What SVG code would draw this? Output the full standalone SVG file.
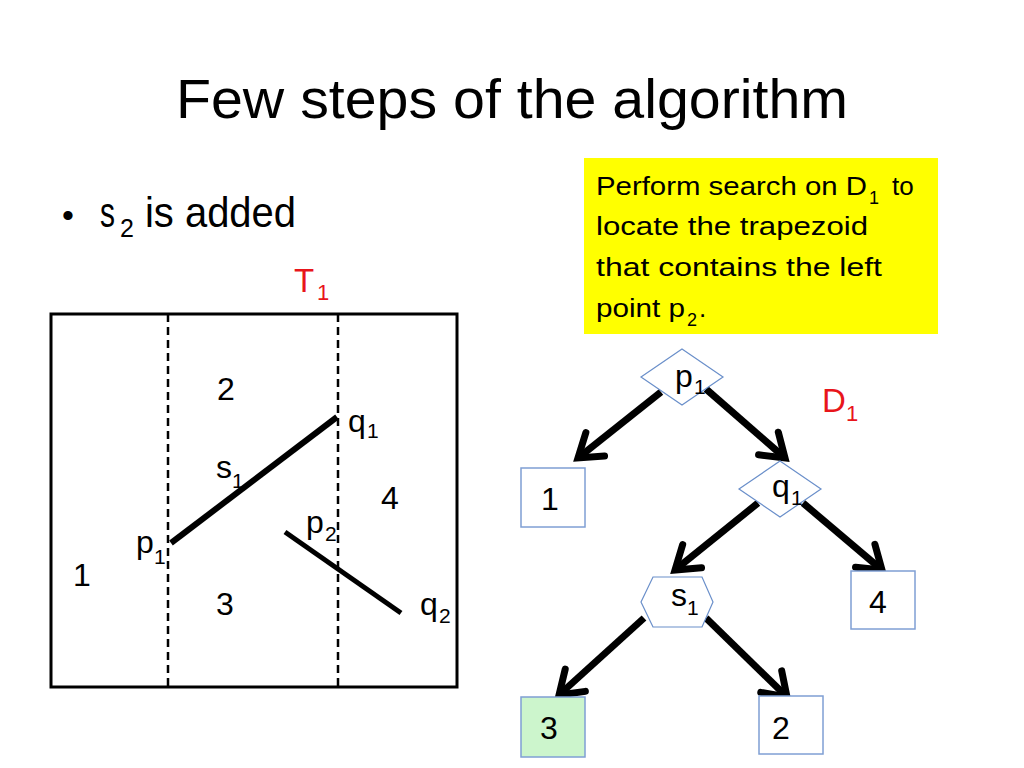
<svg xmlns="http://www.w3.org/2000/svg" width="1024" height="768" viewBox="0 0 1024 768">
<defs>
<style>
text{font-family:"Liberation Sans",Arial,sans-serif;fill:#000}
.lbl{font-size:32px}
.sub{font-size:21px}
.red{fill:#e8151b}
.box{fill:#fff;stroke:#7f9fd4;stroke-width:1.5}
.shape{fill:#fff;stroke:#6a8fca;stroke-width:1.2}
.edge{fill:none;stroke:#000;stroke-width:7;marker-end:url(#arr)}
.yl{font-size:26px}
</style>
<marker id="arr" markerUnits="userSpaceOnUse" viewBox="-30 -20 36 40" refX="0" refY="0" markerWidth="36" markerHeight="40" orient="auto">
<path d="M-22,-15 L0,0 L-22,15" fill="none" stroke="#000" stroke-width="7" stroke-linecap="round" stroke-linejoin="miter"/>
</marker>
</defs>
<rect width="1024" height="768" fill="#fff"/>

<g id="title">
<text x="176" y="118" font-size="56" textLength="672" lengthAdjust="spacingAndGlyphs">Few steps of the algorithm</text>
</g>

<g id="bullet">
<text x="62" y="227" font-size="34">•</text>
<text x="100" y="227" font-size="42" textLength="15" lengthAdjust="spacingAndGlyphs">s</text>
<text x="120" y="237" font-size="25">2</text>
<text x="145" y="227" font-size="42" textLength="151" lengthAdjust="spacingAndGlyphs">is added</text>
</g>

<g id="T1-label">
<text x="294" y="292" font-size="33" class="red">T</text>
<text x="317" y="300" font-size="22" class="red">1</text>
</g>

<g id="callout">
<rect x="584" y="158" width="354" height="176" fill="#ffff00"/>
<text x="596" y="195" class="yl" textLength="271" lengthAdjust="spacingAndGlyphs">Perform search on D</text>
<text x="869" y="204" font-size="18">1</text>
<text x="892" y="195" class="yl">to</text>
<text x="596" y="235" class="yl" textLength="272" lengthAdjust="spacingAndGlyphs">locate the trapezoid</text>
<text x="596" y="276" class="yl" textLength="286" lengthAdjust="spacingAndGlyphs">that contains the left</text>
<text x="596" y="317" class="yl" textLength="89" lengthAdjust="spacingAndGlyphs">point p</text>
<text x="687" y="326" font-size="18">2</text>
<text x="699" y="317" class="yl">.</text>
</g>

<g id="trapezoidal-map">
<rect x="51" y="314" width="406" height="373" fill="none" stroke="#000" stroke-width="3"/>
<line x1="168" y1="314" x2="168" y2="687" stroke="#000" stroke-width="2.5" stroke-dasharray="8,5"/>
<line x1="338" y1="314" x2="338" y2="687" stroke="#000" stroke-width="2.5" stroke-dasharray="8,5"/>
<line x1="171" y1="543" x2="337" y2="417" stroke="#000" stroke-width="6"/>
<line x1="285" y1="532" x2="401" y2="613" stroke="#000" stroke-width="5"/>
<text x="217" y="400" class="lbl">2</text>
<text x="348" y="432" class="lbl">q</text><text x="367" y="438" class="sub">1</text>
<text x="216" y="478" class="lbl">s</text><text x="232" y="488" class="sub">1</text>
<text x="381" y="509" class="lbl">4</text>
<text x="306" y="533" class="lbl">p</text><text x="325" y="541" class="sub">2</text>
<text x="136" y="553" class="lbl">p</text><text x="154" y="564" class="sub">1</text>
<text x="73" y="586" class="lbl">1</text>
<text x="216" y="615" class="lbl">3</text>
<text x="420" y="615" class="lbl">q</text><text x="439" y="623" class="sub">2</text>
</g>

<g id="D1-label">
<text x="822" y="412" font-size="33" class="red">D</text>
<text x="846" y="421" font-size="22" class="red">1</text>
</g>

<g id="connectors">
<line class="edge" x1="661" y1="392" x2="578" y2="458"/>
<line class="edge" x1="706" y1="389" x2="785" y2="458"/>
<line class="edge" x1="758" y1="503" x2="675" y2="570"/>
<line class="edge" x1="803" y1="503" x2="882" y2="570"/>
<line class="edge" x1="644" y1="618" x2="559" y2="695"/>
<line class="edge" x1="706" y1="618" x2="787" y2="697"/>
</g>

<g id="node-p1">
<polygon class="shape" points="682,349 723,377 682,405 641,377"/>
<text x="675" y="387" class="lbl">p</text><text x="694" y="394" class="sub">1</text>
</g>
<g id="node-q1">
<polygon class="shape" points="780,461 821,489 780,517 739,489"/>
<text x="772" y="497" class="lbl">q</text><text x="791" y="505" class="sub">1</text>
</g>
<g id="node-s1">
<polygon class="shape" points="653,577 702,577 713,602 702,627 653,627 641,602"/>
<text x="671" y="606" class="lbl">s</text><text x="687" y="615" class="sub">1</text>
</g>
<g id="node-1">
<rect class="box" x="521" y="468" width="64" height="59"/>
<text x="541" y="510" class="lbl">1</text>
</g>
<g id="node-4">
<rect class="box" x="851" y="571" width="64" height="58"/>
<text x="869" y="613" class="lbl">4</text>
</g>
<g id="node-3">
<rect class="box" x="521" y="697" width="64" height="60" style="fill:#ccf5cc"/>
<text x="540" y="739" class="lbl">3</text>
</g>
<g id="node-2">
<rect class="box" x="759" y="696" width="64" height="58"/>
<text x="772" y="739" class="lbl">2</text>
</g>
</svg>
